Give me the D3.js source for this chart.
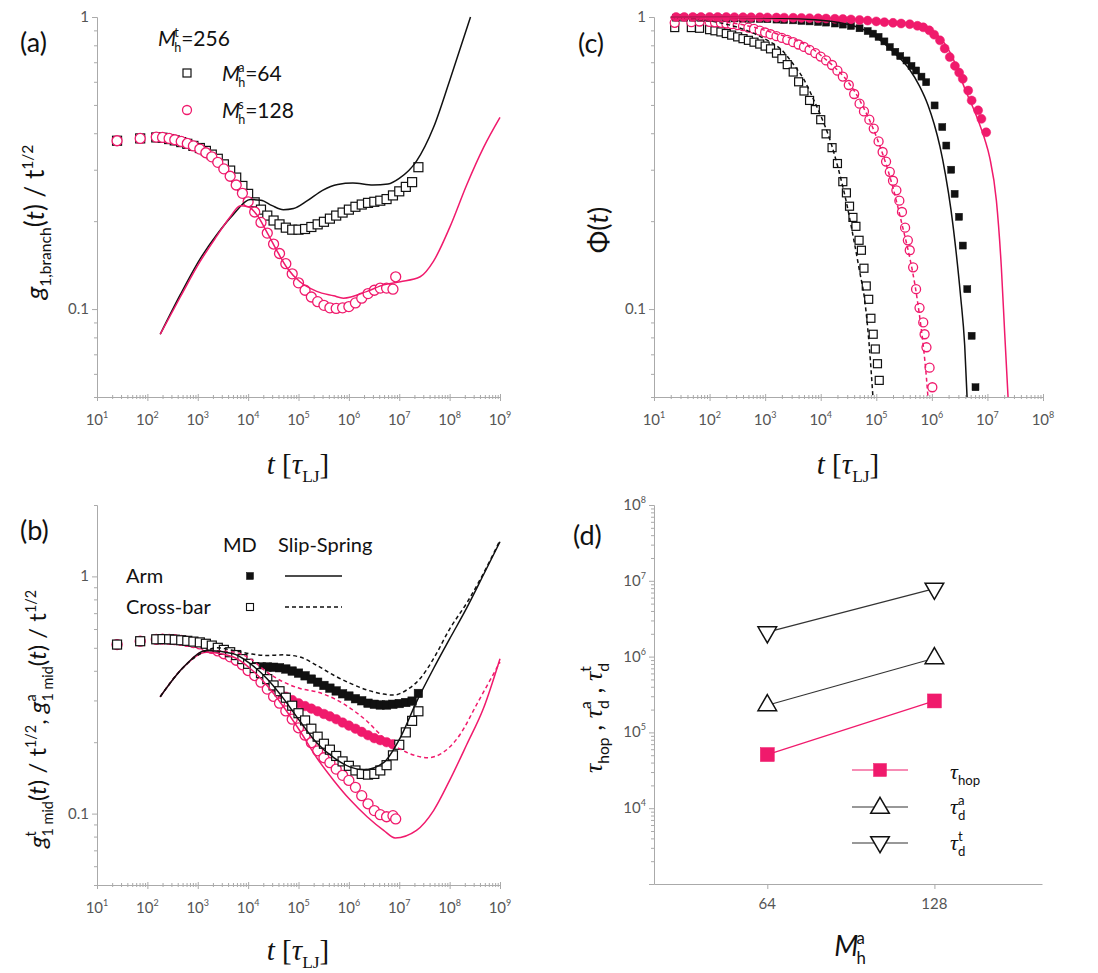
<!DOCTYPE html>
<html><head><meta charset="utf-8">
<script src="https://cdn.jsdelivr.net/npm/d3@7"></script>
<style>
body{margin:0;background:#fff}
svg text{font-family:Lato,'Open Sans',sans-serif;fill:#111}
.ax path,.ax line{stroke:#aaa;stroke-width:1}
.tk{fill:#555 !important;font-size:15px}
</style>
</head><body>
<svg id="c" width="1098" height="973"></svg>
<script>
const PINK = "#f01a6c";
const SERIF = "'Liberation Serif','DejaVu Serif',serif";

// ---------------- DATA ----------------
// time grid shared by panels (a) and (b) MD data
const tA = [25,72,150,200,270,350,470,620,820,1.1e3,1.45e3,1.9e3,2.5e3,3.3e3,4.4e3,5.8e3,7.7e3,1e4,1.35e4,1.8e4,2.4e4,3.2e4,4.2e4,5.6e4,7.5e4,1e5,1.35e5,1.8e5,2.4e5,3.2e5,4.2e5,5.6e5,7.5e5,1e6,1.35e6,1.8e6,2.4e6,3.2e6,4.2e6,5.6e6,7.5e6,1e7,1.35e7,1.8e7,2.4e7];

// (a) g1,branch / t^1/2
const aSquares = [0.377,0.384,0.387,0.386,0.382,0.378,0.373,0.368,0.362,0.356,0.348,0.338,0.327,0.313,0.298,0.282,0.264,0.248,0.232,0.219,0.209,0.201,0.195,0.190,0.187,0.187,0.188,0.191,0.195,0.199,0.204,0.209,0.214,0.219,0.224,0.228,0.231,0.233,0.235,0.238,0.245,0.253,0.262,0.272,0.306];
const aCircles = [0.377,0.384,0.388,0.387,0.384,0.380,0.375,0.369,0.362,0.353,0.343,0.332,0.318,0.302,0.285,0.266,0.249,0.233,0.215,0.198,0.182,0.167,0.155,0.143,0.132,0.123,0.116,0.110,0.106,0.103,0.101,0.1005,0.101,0.102,0.105,0.109,0.113,0.116,0.118,0.118,0.117];
const aCirclesTail = [[8.5e6,0.129]];
const aLineBlack = [[180,0.082],[450,0.112],[1100,0.148],[2400,0.18],[5100,0.211],[1.1e4,0.237],[1.8e4,0.236],[3e4,0.226],[5e4,0.219],[8e4,0.221],[1.5e5,0.235],[3e5,0.255],[6e5,0.267],[1.2e6,0.27],[3e6,0.266],[6e6,0.268],[1e7,0.28],[2.2e7,0.321],[4.8e7,0.419],[1e8,0.605],[2.6e8,1.0]];
const aLinePink = [[180,0.082],[450,0.11],[1100,0.145],[2400,0.178],[4500,0.208],[7000,0.226],[1e4,0.224],[1.5e4,0.21],[2.3e4,0.185],[4e4,0.155],[6e4,0.138],[1.07e5,0.124],[2.3e5,0.115],[5e5,0.111],[7.8e5,0.109],[2.3e6,0.115],[4.9e6,0.121],[1.05e7,0.124],[2.6e7,0.129],[4.8e7,0.146],[1e8,0.19],[2.2e8,0.267],[4.7e8,0.357],[1e9,0.453]];

// (b) g1mid / t^1/2
const bOpenCircles = [0.516,0.533,0.543,0.544,0.543,0.541,0.537,0.532,0.526,0.519,0.508,0.497,0.485,0.472,0.458,0.443,0.424,0.401,0.382,0.358,0.335,0.312,0.292,0.271,0.250,0.230,0.214,0.199,0.184,0.172,0.164,0.154,0.145,0.138,0.129,0.119,0.110,0.103,0.099,0.097,0.098];
const bOpenCirclesTail = [[8.5e6,0.095]];
const bOpenSquares = [0.516,0.533,0.543,0.544,0.543,0.541,0.538,0.535,0.531,0.527,0.520,0.511,0.500,0.490,0.479,0.466,0.448,0.428,0.411,0.391,0.369,0.347,0.328,0.308,0.285,0.265,0.247,0.228,0.211,0.197,0.186,0.175,0.166,0.159,0.152,0.147,0.146,0.147,0.152,0.160,0.176,0.195,0.220,0.246,0.270];
const bFilledSquares = [0.516,0.533,0.543,0.544,0.543,0.541,0.538,0.535,0.531,0.526,0.518,0.508,0.496,0.482,0.466,0.450,0.435,0.424,0.417,0.415,0.415,0.414,0.412,0.407,0.399,0.391,0.381,0.369,0.358,0.347,0.338,0.329,0.320,0.313,0.305,0.299,0.292,0.289,0.287,0.287,0.289,0.291,0.294,0.298,0.321];
const bFilledCircles = [0.516,0.533,0.543,0.544,0.543,0.541,0.537,0.532,0.526,0.519,0.510,0.500,0.489,0.476,0.462,0.447,0.430,0.412,0.392,0.372,0.352,0.336,0.323,0.311,0.301,0.292,0.284,0.277,0.270,0.263,0.257,0.250,0.242,0.235,0.228,0.221,0.214,0.208,0.204,0.200,0.196];
const bBlackSolid = [[180,0.311],[525,0.415],[1500,0.487],[5100,0.472],[1e4,0.435],[2.35e4,0.371],[5e4,0.306],[1.07e5,0.245],[2.3e5,0.199],[5e5,0.172],[1.07e6,0.157],[2e6,0.153],[4.9e6,0.164],[1.05e7,0.209],[2.2e7,0.296],[4.8e7,0.409],[1e8,0.545],[2.2e8,0.738],[4.7e8,1.016],[1e9,1.40]];
const bBlackDash = [[180,0.311],[525,0.415],[1500,0.487],[2400,0.5],[5100,0.487],[1.1e4,0.472],[2.35e4,0.464],[5e4,0.467],[1.07e5,0.457],[2.3e5,0.422],[5e5,0.383],[1.07e6,0.354],[2.3e6,0.332],[4.9e6,0.319],[7.7e6,0.316],[1.4e7,0.332],[2.6e7,0.371],[4.8e7,0.45],[1e8,0.6],[2.2e8,0.774],[4.7e8,1.03],[1e9,1.42]];
const bPinkSolid = [[180,0.311],[525,0.415],[1500,0.479],[5100,0.457],[1.1e4,0.409],[2.35e4,0.348],[5e4,0.283],[1.07e5,0.223],[2.3e5,0.172],[5e5,0.138],[1.07e6,0.114],[2.3e6,0.097],[4.9e6,0.085],[8.3e6,0.079],[2.2e7,0.085],[4.8e7,0.103],[1e8,0.138],[2.2e8,0.196],[4.7e8,0.278],[1e9,0.45]];
const bPinkDash = [[180,0.311],[525,0.415],[1500,0.487],[5100,0.48],[1.1e4,0.45],[2.35e4,0.395],[5e4,0.359],[1.07e5,0.337],[2.3e5,0.326],[5e5,0.306],[1.07e6,0.278],[2.3e6,0.245],[4.9e6,0.209],[1.05e7,0.187],[2.2e7,0.175],[3.6e7,0.172],[6.5e7,0.178],[1.6e8,0.215],[3.4e8,0.287],[1e9,0.435]];

// (c) Phi(t)
const cOpenSquares = [[23.6,0.92],[47,0.92],[66,0.915],[100,0.905],[125,0.897],[160,0.889],[200,0.878],[250,0.867],[320,0.855],[400,0.843],[500,0.832],[630,0.82],[800,0.808],[1000,0.795],[1250,0.778],[1600,0.752],[2000,0.72],[2500,0.687],[3200,0.648],[4000,0.60],[5000,0.558],[6300,0.518],[8000,0.482],[1e4,0.445],[1.25e4,0.398],[1.6e4,0.357],[2e4,0.315],[2.5e4,0.273],[2.9e4,0.25],[3.3e4,0.225],[3.8e4,0.206],[4.3e4,0.192],[4.9e4,0.172],[5.4e4,0.159],[6e4,0.138],[6.6e4,0.12],[7.3e4,0.108],[8e4,0.093],[8.8e4,0.082],[9.6e4,0.073],[1.05e5,0.065],[1.13e5,0.057]];
const cOpenCircles = [[23.6,0.955],[47,0.96],[66,0.965],[100,0.962],[125,0.959],[160,0.955],[200,0.95],[250,0.945],[320,0.938],[400,0.93],[500,0.92],[630,0.91],[800,0.898],[1000,0.885],[1250,0.873],[1600,0.86],[2000,0.848],[2500,0.835],[3200,0.82],[4000,0.805],[5000,0.79],[6300,0.772],[8000,0.752],[1e4,0.732],[1.25e4,0.71],[1.6e4,0.685],[2e4,0.655],[2.5e4,0.625],[3.2e4,0.585],[4e4,0.545],[5e4,0.505],[6e4,0.475],[7.5e4,0.445],[9e4,0.415],[1.1e5,0.375],[1.3e5,0.345],[1.5e5,0.32],[1.75e5,0.295],[2e5,0.275],[2.3e5,0.255],[2.6e5,0.235],[2.9e5,0.215],[3.3e5,0.19],[3.7e5,0.172],[4e5,0.159],[4.6e5,0.139],[5.2e5,0.117],[6e5,0.101],[7e5,0.09],[7.4e5,0.082],[8e5,0.074],[9.1e5,0.063],[1.02e6,0.054]];
const cFilledSquares = [[25,0.995],[35,0.995],[50,0.995],[70,0.994],[100,0.993],[140,0.992],[200,0.99],[280,0.989],[400,0.988],[560,0.986],[800,0.985],[1100,0.983],[1600,0.98],[2200,0.977],[3200,0.974],[4500,0.97],[6300,0.966],[9000,0.962],[1.25e4,0.957],[1.8e4,0.95],[2.5e4,0.942],[3.5e4,0.932],[5e4,0.915],[7e4,0.895],[8.7e4,0.877],[1.1e5,0.855],[1.4e5,0.825],[1.75e5,0.789],[2.2e5,0.76],[2.7e5,0.735],[3.5e5,0.71],[4.3e5,0.68],[5.2e5,0.656],[6.5e5,0.625],[7.9e5,0.598],[1.12e6,0.498],[1.54e6,0.42],[1.82e6,0.363],[2.23e6,0.30],[2.57e6,0.248],[3.08e6,0.207],[3.6e6,0.165],[4.34e6,0.117],[5.2e6,0.081],[6.1e6,0.054]];
const cFilledCircles = [[25,1.0],[35,1.0],[50,1.0],[70,1.0],[100,1.0],[140,1.0],[200,1.0],[280,0.999],[400,0.999],[560,0.998],[800,0.998],[1100,0.997],[1600,0.996],[2200,0.995],[3200,0.994],[4500,0.993],[6300,0.991],[9000,0.99],[1.25e4,0.988],[1.8e4,0.986],[2.5e4,0.984],[3.5e4,0.981],[5e4,0.977],[7e4,0.972],[1e5,0.966],[1.4e5,0.96],[2e5,0.955],[2.8e5,0.95],[4e5,0.945],[5.5e5,0.933],[7e5,0.922],[9e5,0.9],[1.1e6,0.87],[1.4e6,0.832],[1.7e6,0.78],[2.1e6,0.729],[2.6e6,0.68],[3.1e6,0.645],[3.6e6,0.614],[4.5e6,0.56],[5.2e6,0.518],[6.8e6,0.479],[7.8e6,0.448],[9.5e6,0.403]];
const cBlackDash = [[20,0.995],[50,0.985],[100,0.97],[200,0.945],[500,0.895],[1000,0.84],[2000,0.77],[3200,0.69],[5000,0.61],[7500,0.52],[1e4,0.46],[1.5e4,0.375],[2e4,0.31],[3e4,0.225],[4e4,0.17],[5e4,0.135],[6.2e4,0.107],[7.6e4,0.072],[8.7e4,0.05]];
const cPinkDash = [[20,0.99],[100,0.975],[1000,0.9],[1e4,0.74],[5e4,0.52],[1e5,0.39],[2e5,0.26],[3e5,0.19],[4e5,0.15],[5e5,0.12],[6e5,0.095],[7e5,0.075],[8e5,0.058],[8.5e5,0.05]];
const cBlackSolid = [[20,1.0],[200,0.998],[2000,0.99],[1e4,0.975],[3e4,0.945],[6.3e4,0.9],[1.3e5,0.82],[2.5e5,0.73],[4e5,0.66],[6e5,0.58],[8.5e5,0.5],[1.1e6,0.43],[1.4e6,0.36],[1.75e6,0.29],[2.2e6,0.22],[2.75e6,0.155],[3.3e6,0.11],[3.9e6,0.075],[4.3e6,0.05]];
const cPinkSolid = [[20,1.0],[1e3,0.999],[1e4,0.995],[1e5,0.975],[3.5e5,0.955],[7e5,0.925],[1.4e6,0.85],[2.1e6,0.76],[2.75e6,0.68],[3.4e6,0.61],[4.2e6,0.55],[5.5e6,0.49],[7.2e6,0.43],[9e6,0.38],[1.1e7,0.33],[1.45e7,0.235],[1.78e7,0.139],[2.05e7,0.082],[2.35e7,0.05]];

// (d) relaxation times vs M_h^a
const Mh = [64, 128];
const tauHop = [5.1e4, 2.6e5];
const tauDa = [2.28e5, 9.5e5];
const tauDt = [2.1e6, 7.9e6];

// tick labels
const xMajorAB = [1e1,1e2,1e3,1e4,1e5,1e6,1e7,1e8,1e9];
const xExpAB = ["1","2","3","4","5","6","7","8","9"];
const xMajorC = [1e1,1e2,1e3,1e4,1e5,1e6,1e7,1e8];
const xExpC = ["1","2","3","4","5","6","7","8"];
const yMajor = [0.1, 1];
const yMajorLabels = ["0.1", "1"];
const yMajorD = [1e4,1e5,1e6,1e7,1e8];
const yExpD = ["4","5","6","7","8"];

// ---------------- SCALES ----------------
const xA = d3.scaleLog().domain([10,1e9]).range([97,500]);
const yA = d3.scaleLog().domain([0.05,1]).range([397,17]);
const xB = d3.scaleLog().domain([10,1e9]).range([97,500]);
const yB = d3.scaleLog().domain([0.05,2]).range([885,505]);
const xC = d3.scaleLog().domain([10,1e8]).range([654,1043]);
const yC = d3.scaleLog().domain([0.05,1]).range([397,17]);
const xD = d3.scaleLog().domain([40,200]).range([654,1042]);
const yD = d3.scaleLog().domain([1e3,1e8]).range([884,505]);

const svg = d3.select("#c");
const zip = (t, v) => v.map((d,i)=>[t[i], d]);

// ---------------- HELPERS ----------------
function minorsOf(majors, lim){
  const m=[]; majors.forEach(M=>{for(let k=2;k<=9;k++){const v=M*k; if(v<lim[1]*1.0001 && v>lim[0]) m.push(v);}});
  const lo = majors[0]/10; for(let k=2;k<=9;k++){const v=lo*k; if(v>=lim[0]*0.9999 && v<majors[0]) m.push(v);}
  return m;
}
function xAxis(x, y0, majors, exps){
  const dom = x.domain();
  const mn = minorsOf(majors, dom);
  svg.append("g").attr("class","ax").attr("transform",`translate(0,${y0})`)
    .call(d3.axisBottom(x).tickValues(mn).tickSizeOuter(0).tickFormat(""))
    .call(g=>g.selectAll(".tick line").attr("y1",-2).attr("y2",2));
  svg.append("g").attr("class","ax").attr("transform",`translate(0,${y0})`)
    .call(d3.axisBottom(x).tickValues(majors).tickSizeOuter(0).tickFormat(""))
    .call(g=>g.selectAll(".tick line").attr("y1",-3).attr("y2",4));
  majors.forEach((M,i)=>{
    const t = svg.append("text").attr("class","tk").attr("x",x(M)).attr("y",y0+28).attr("text-anchor","middle");
    t.append("tspan").text("10");
    t.append("tspan").attr("dy",-7).attr("font-size",9).text(exps[i]);
  });
}
function yAxis(y, x0, majors, labels){
  const dom = y.domain();
  const mn = minorsOf(majors, dom);
  svg.append("g").attr("class","ax").attr("transform",`translate(${x0},0)`)
    .call(d3.axisLeft(y).tickValues(mn).tickSize(3).tickSizeOuter(0).tickFormat(""));
  svg.append("g").attr("class","ax").attr("transform",`translate(${x0},0)`)
    .call(d3.axisLeft(y).tickValues(majors).tickSize(5).tickSizeOuter(0).tickFormat(""));
  majors.forEach((M,i)=>{
    svg.append("text").attr("class","tk").attr("x",x0-8).attr("y",y(M)+5).attr("text-anchor","end").text(labels[i]);
  });
}
// rich text: segs of {t, k:'n'|'b'(sub)|'p'(sup)|'s'(stack b/p), it, f}
function rich(parent, segs, size, anchor){
  const g = parent.append("g");
  let x = 0;
  const add = (txt, xx, yy, fs, it, f) => {
    const e = g.append("text").attr("x",xx).attr("y",yy).attr("font-size",fs).text(txt.replace(/ /g,"\u00A0"));
    if (it) e.attr("font-style","italic");
    if (f) e.style("font-family", f);
    return e.node().getComputedTextLength();
  };
  segs.forEach(s=>{
    const sub = size*0.6;
    if (s.k==='b') x += add(s.t, x, size*0.28, sub, s.it, s.f);
    else if (s.k==='p') x += add(s.t, x, -size*0.42, sub, s.it, s.f);
    else if (s.k==='s') { const a = add(s.b, x+(s.dx||0), size*0.28, sub, false, s.f); const b = add(s.p, x+(s.dx||0), -size*0.42, sub, false, s.f); x += Math.max(a,b)+(s.dx||0); }
    else x += add(s.t, x, 0, size, s.it, s.f);
  });
  if (anchor==='middle') g.attr("transform",`translate(${-x/2},0)`);
  return g;
}
function place(tr){ return svg.append("g").attr("transform", tr); }

const lineGen = (x,y) => d3.line().x(d=>x(d[0])).y(d=>y(d[1])).curve(d3.curveMonotoneX);
function drawLine(data, x, y, color, dash, w){
  svg.append("path").datum(data).attr("d", lineGen(x,y)).attr("fill","none")
    .attr("stroke",color).attr("stroke-width",w||1.5).attr("stroke-dasharray",dash||null);
}
function squares(data, x, y, s, fill, stroke, sw){
  svg.append("g").selectAll("rect").data(data.filter(d=>d[1]!=null)).join("rect")
    .attr("x",d=>x(d[0])-s/2).attr("y",d=>y(d[1])-s/2).attr("width",s).attr("height",s)
    .attr("fill",fill).attr("stroke",stroke).attr("stroke-width",sw||1.2);
}
function circles(data, x, y, r, fill, stroke, sw){
  svg.append("g").selectAll("circle").data(data.filter(d=>d[1]!=null)).join("circle")
    .attr("cx",d=>x(d[0])).attr("cy",d=>y(d[1])).attr("r",r)
    .attr("fill",fill).attr("stroke",stroke).attr("stroke-width",sw||1.3);
}
function tLabel(cx, y){
  const g = place(`translate(${cx},${y})`);
  rich(g,[{t:"t",it:1,f:SERIF},{t:" [",f:SERIF},{t:"τ",it:1,f:SERIF},{t:"LJ",k:'b',f:SERIF},{t:"]",f:SERIF}],29,'middle');
}

// ---------------- PANEL (a) ----------------
xAxis(xA, 397, xMajorAB, xExpAB);
yAxis(yA, 97, yMajor, yMajorLabels);
squares(zip(tA,aSquares), xA, yA, 9, "#fff", "#111");
circles(zip(tA,aCircles).concat(aCirclesTail), xA, yA, 5, "#fff", PINK);
drawLine(aLineBlack, xA, yA, "#111");
drawLine(aLinePink, xA, yA, PINK);
tLabel(298, 474);
{ const g = place("translate(44,222) rotate(-90)");
  rich(g,[{t:"g",it:1},{t:"1,branch",k:'b'},{t:"("},{t:"t",it:1},{t:") / t"},{t:"1/2",k:'p'}],26,'middle'); }
svg.append("text").attr("x",20).attr("y",52).attr("font-size",27).text("(a)");
{ const g = place("translate(158,46)");
  rich(g,[{t:"M",it:1},{k:'s',b:"h",p:"t",dx:-2},{t:"=256"}],21); }
squares([[0,0]], ()=>187, ()=>73, 8, "#fff", "#111");
{ const g = place("translate(222,81)");
  rich(g,[{t:"M",it:1},{k:'s',b:"h",p:"a",dx:-2},{t:"=64"}],21); }
circles([[0,0]], ()=>187, ()=>110, 4.5, "#fff", PINK);
{ const g = place("translate(222,118)");
  rich(g,[{t:"M",it:1},{k:'s',b:"h",p:"s",dx:-2},{t:"=128"}],21); }

// ---------------- PANEL (b) ----------------
xAxis(xB, 885, xMajorAB, xExpAB);
yAxis(yB, 97, yMajor, yMajorLabels);
circles(zip(tA,bFilledCircles), xB, yB, 4.8, PINK, PINK, 0.5);
squares(zip(tA,bFilledSquares), xB, yB, 8.5, "#111", "#111", 0.5);
circles(zip(tA,bOpenCircles).concat(bOpenCirclesTail), xB, yB, 5, "#fff", PINK);
squares(zip(tA,bOpenSquares), xB, yB, 9, "#fff", "#111");
drawLine(bPinkSolid, xB, yB, PINK);
drawLine(bPinkDash, xB, yB, PINK, "4,3");
drawLine(bBlackSolid, xB, yB, "#111");
drawLine(bBlackDash, xB, yB, "#111", "4,3");
tLabel(298, 960);
{ const g = place("translate(46,719) rotate(-90)");
  rich(g,[{t:"g",it:1},{k:'s',b:"1 mid",p:"t"},{t:"("},{t:"t",it:1},{t:") / t"},{t:"1/2",k:'p'},{t:", "},{t:"g",it:1},{k:'s',b:"1 mid",p:"a"},{t:"("},{t:"t",it:1},{t:") / t"},{t:"1/2",k:'p'}],24,'middle'); }
svg.append("text").attr("x",20).attr("y",540).attr("font-size",27).text("(b)");
svg.append("text").attr("x",223).attr("y",552).attr("font-size",20).text("MD");
svg.append("text").attr("x",278).attr("y",552).attr("font-size",20).text("Slip-Spring");
svg.append("text").attr("x",126).attr("y",583).attr("font-size",20).text("Arm");
svg.append("text").attr("x",126).attr("y",614).attr("font-size",20).text("Cross-bar");
squares([[0,0]], ()=>250, ()=>576, 7, "#111", "#111", 0.5);
squares([[0,0]], ()=>250, ()=>607, 7, "#fff", "#111", 1.1);
svg.append("line").attr("x1",285).attr("x2",342).attr("y1",576).attr("y2",576).attr("stroke","#111").attr("stroke-width",1.5);
svg.append("line").attr("x1",285).attr("x2",342).attr("y1",607).attr("y2",607).attr("stroke","#111").attr("stroke-width",1.5).attr("stroke-dasharray","4,3");

// ---------------- PANEL (c) ----------------
xAxis(xC, 397, xMajorC, xExpC);
yAxis(yC, 654, yMajor, yMajorLabels);
squares(cOpenSquares, xC, yC, 8, "#fff", "#111");
circles(cOpenCircles, xC, yC, 4.5, "#fff", PINK);
squares(cFilledSquares, xC, yC, 7, "#111", "#111", 0.5);
circles(cFilledCircles, xC, yC, 4.5, PINK, PINK, 0.5);
drawLine(cBlackDash, xC, yC, "#111", "4,3");
drawLine(cPinkDash, xC, yC, PINK, "4,3");
drawLine(cBlackSolid, xC, yC, "#111");
drawLine(cPinkSolid, xC, yC, PINK);
tLabel(848, 474);
{ const g = place("translate(608,230) rotate(-90)");
  rich(g,[{t:"Φ("},{t:"t",it:1},{t:")"}],27,'middle'); }
svg.append("text").attr("x",578).attr("y",53).attr("font-size",27).text("(c)");

// ---------------- PANEL (d) ----------------
svg.append("g").attr("class","ax").attr("transform","translate(0,884)")
  .call(d3.axisBottom(xD).tickValues(Mh).tickSize(5).tickSizeOuter(0).tickFormat(""));
Mh.forEach(m=>svg.append("text").attr("class","tk").attr("x",xD(m)).attr("y",909).attr("text-anchor","middle").text(m));
{ const mn = minorsOf([1e4,1e5,1e6,1e7], yD.domain());
  svg.append("g").attr("class","ax").attr("transform","translate(654,0)")
    .call(d3.axisLeft(yD).tickValues(mn).tickSize(3).tickSizeOuter(0).tickFormat(""));
  svg.append("g").attr("class","ax").attr("transform","translate(654,0)")
    .call(d3.axisLeft(yD).tickValues([1e3].concat(yMajorD)).tickSize(5).tickSizeOuter(0).tickFormat(""));
  yMajorD.forEach((v,i)=>{
    const t = svg.append("text").attr("class","tk").attr("x",646).attr("y",yD(v)+5).attr("text-anchor","end");
    t.append("tspan").text("10"); t.append("tspan").attr("dy",-7).attr("font-size",9).text(yExpD[i]);
  });
}
const ptsHop = zip(Mh,tauHop), ptsDa = zip(Mh,tauDa), ptsDt = zip(Mh,tauDt);
const straight = d3.line().x(d=>xD(d[0])).y(d=>yD(d[1]));
svg.append("path").attr("d",straight(ptsHop)).attr("stroke",PINK).attr("stroke-width",1.2).attr("fill","none");
svg.append("path").attr("d",straight(ptsDa)).attr("stroke","#333").attr("stroke-width",1.2).attr("fill","none");
svg.append("path").attr("d",straight(ptsDt)).attr("stroke","#333").attr("stroke-width",1.2).attr("fill","none");
const tri = d3.symbol().type(d3.symbolTriangle).size(150);
function triangles(pts, down){
  svg.append("g").selectAll("path").data(pts).join("path").attr("d",tri)
    .attr("transform",d=>`translate(${xD(d[0])},${yD(d[1])}) rotate(${down?180:0})`)
    .attr("fill","#fff").attr("stroke","#111").attr("stroke-width",1.5);
}
squares(ptsHop, xD, yD, 14, PINK, PINK, 0.5);
triangles(ptsDa, false);
triangles(ptsDt, true);
// legend (d)
[[770,PINK],[807,"#333"],[843,"#333"]].forEach(r=>svg.append("line").attr("x1",852).attr("x2",908).attr("y1",r[0]).attr("y2",r[0]).attr("stroke",r[1]).attr("stroke-width",1.2));
squares([[0,0]], ()=>880, ()=>770, 13, PINK, PINK, 0.5);
svg.append("path").attr("d",tri).attr("transform","translate(880,808)").attr("fill","#fff").attr("stroke","#111").attr("stroke-width",1.5);
svg.append("path").attr("d",tri).attr("transform","translate(880,842) rotate(180)").attr("fill","#fff").attr("stroke","#111").attr("stroke-width",1.5);
{ rich(place("translate(950,779)"),[{t:"τ",it:1,f:SERIF},{t:"hop",k:'b'}],22);
  rich(place("translate(950,814)"),[{t:"τ",it:1,f:SERIF},{k:'s',b:"d",p:"a"}],22);
  rich(place("translate(950,850)"),[{t:"τ",it:1,f:SERIF},{k:'s',b:"d",p:"t"}],22); }
{ const g = place("translate(602,718) rotate(-90)");
  rich(g,[{t:"τ",it:1,f:SERIF},{t:"hop",k:'b'},{t:" , "},{t:"τ",it:1,f:SERIF},{k:'s',b:"d",p:"a"},{t:" , "},{t:"τ",it:1,f:SERIF},{k:'s',b:"d",p:"t"}],26,'middle'); }
{ const g = place("translate(850,956)");
  rich(g,[{t:"M",it:1},{k:'s',b:"h",p:"a",dx:-2}],28,'middle'); }
svg.append("text").attr("x",573).attr("y",545).attr("font-size",27).text("(d)");
</script>
</body></html>
